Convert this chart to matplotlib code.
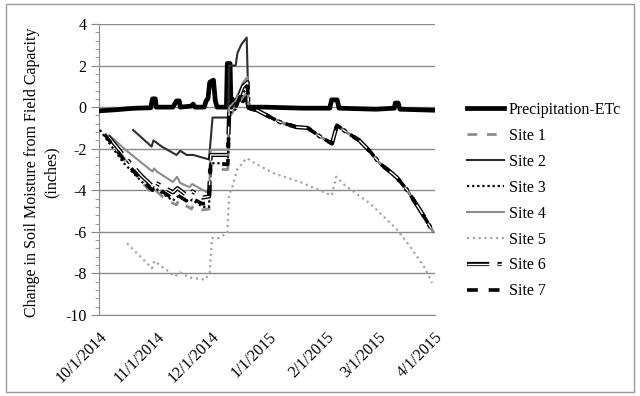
import matplotlib
matplotlib.use("Agg")
import matplotlib.pyplot as plt
import matplotlib.dates as mdates
import matplotlib.patheffects as pe
from matplotlib.patches import Rectangle
import pandas as pd

plt.rcParams['font.family'] = ['Liberation Serif', 'DejaVu Serif']
plt.rcParams['axes.unicode_minus'] = False

start = pd.Timestamp("2014-10-01")

# days after 10/1/2014 and values (inches)
precip_days = [0, 5, 10, 15, 20, 28, 29, 30.5, 31, 40, 42, 43.5, 44, 50, 51, 52, 57, 58, 59, 60, 62, 63, 64,
               69, 69.5, 71, 71.5, 72, 74, 76, 78, 80, 81, 90, 110, 125, 126, 129, 130, 150, 160, 160.5, 162,
               163, 182]
precip_vals = [-0.18, -0.15, -0.12, -0.08, -0.05, -0.03, 0.4, 0.4, 0.0, 0.0, 0.3, 0.3, 0.0, 0.05, 0.15, 0.0,
               0.0, 0.3, 0.4, 1.2, 1.3, 0.3, 0.0, 0.0, 2.1, 2.1, 0.0, 0.4, 0.2, 0.6, 0.3, 0.5, 0.0, 0.0, -0.05,
               -0.05, 0.35, 0.35, -0.05, -0.1, -0.05, 0.2, 0.2, -0.1, -0.15]

# after late December all sites except Site 5 follow the same curve
tail_days = [81, 85.6, 91, 98, 107, 113, 120, 126.2, 128.9, 134, 141, 147, 152, 159, 161.5, 167, 174, 181]
tail_vals = [-0.05, -0.15, -0.4, -0.72, -0.96, -1.0, -1.43, -1.75, -0.87, -1.2, -1.6, -2.15, -2.7, -3.2,
             -3.4, -4.0, -4.96, -6.0]

site1_days = [5.5, 13, 23, 29, 30, 36.8, 42, 43, 50, 51, 54.7, 59.6, 60.5, 69.8, 70.5, 74, 78, 80.5]
site1_vals = [-1.45, -2.4, -3.6, -4.15, -3.95, -4.5, -4.7, -4.5, -4.9, -4.75, -4.96, -4.9, -3.0, -3.0, -0.5,
              0.0, 0.5, 0.7]

site2_days = [18.5, 28.5, 29.5, 34, 42, 44, 47.5, 51, 59, 59.6, 61.5, 70, 70.5, 74, 75, 77, 80]
site2_vals = [-1.1, -1.9, -1.6, -1.9, -2.3, -2.1, -2.3, -2.3, -2.5, -2.5, -0.5, -0.5, 2.0, 2.0, 2.6, 3.0, 3.35]

site3_days = [0.5, 13, 23.3, 29, 29.8, 40, 42.5, 49, 50.5, 56, 59.6, 60.5, 69.8, 70.5, 74, 78, 80.5]
site3_vals = [-1.1, -2.65, -3.6, -4.0, -3.85, -4.5, -4.3, -4.55, -4.45, -4.8, -4.8, -2.7, -2.7, -0.3, -0.1,
              0.7, 0.9]

site4_days = [5.5, 15, 29, 29.8, 31.4, 40, 42.3, 44, 49, 50.5, 58.5, 59.6, 60.5, 69.8, 70.5, 74, 78, 80.5]
site4_vals = [-1.35, -2.1, -3.1, -2.95, -3.1, -3.6, -3.35, -3.65, -3.85, -3.7, -4.1, -4.1, -2.05, -2.05, 0.0,
              0.3, 1.2, 1.45]

site5_days = [15.2, 28.7, 30, 36.8, 41, 44, 49, 57.5, 60, 61.2, 65, 69.5, 70.5, 72, 74.8, 80, 84.5, 95, 109,
              126, 128.5, 133, 147, 161, 168.5, 176.6, 180.4]
site5_vals = [-6.55, -7.75, -7.4, -7.85, -8.15, -7.95, -8.2, -8.3, -7.95, -6.3, -6.3, -6.05, -4.2, -3.9, -3.0,
              -2.45, -2.7, -3.2, -3.6, -4.25, -3.35, -3.75, -4.65, -5.85, -6.7, -7.75, -8.45]

site6_days = [5, 15, 23, 29, 30, 40, 42.5, 47.7, 50.5, 56, 59.6, 60.5, 69.8, 70.5, 74, 78, 80.5]
site6_vals = [-1.4, -2.5, -3.3, -3.8, -3.6, -4.1, -3.9, -4.25, -4.05, -4.35, -4.3, -2.3, -2.3, -0.2, 0.1,
              1.0, 1.2]

site7_days = [3, 14, 23, 29, 30, 40, 42, 49, 50.5, 56, 59.6, 60.5, 69.8, 70.5, 74, 78, 80.5]
site7_vals = [-1.3, -2.6, -3.5, -4.0, -3.8, -4.4, -4.2, -4.6, -4.4, -4.65, -4.6, -2.75, -2.75, -0.4, 0.0,
              0.8, 1.0]


def toDates(days):
    return start + pd.to_timedelta(days, unit="D")


fig = plt.figure(figsize=(6.4, 3.96), dpi=100)
ax = fig.add_axes([99 / 640, 1 - 315 / 396, 336 / 640, 291 / 396])

ax.plot(toDates(precip_days), precip_vals, color="black", lw=3.4, label="Precipitation-ETc", zorder=3)

sites = [
    (site1_days, site1_vals, dict(color="#8c8c8c", lw=2, dashes=(3.5, 3.5)), "Site 1"),
    (site2_days, site2_vals, dict(color="#2e2e2e", lw=1.5), "Site 2"),
    (site3_days, site3_vals, dict(color="black", lw=1.6, dashes=(1, 1.3)), "Site 3"),
    (site4_days, site4_vals, dict(color="#8c8c8c", lw=1.5), "Site 4"),
    (site5_days, site5_vals, dict(color="#a6a6a6", lw=1.6, dashes=(1, 1.6)), "Site 5"),
    (site6_days, site6_vals, dict(color="white", lw=1, dashes=(16, 6, 3, 6),
                                  path_effects=[pe.Stroke(linewidth=3, foreground="black"), pe.Normal()]),
     "Site 6"),
    (site7_days, site7_vals, dict(color="black", lw=2.6, dashes=(3, 3)), "Site 7"),
]
for days, vals, style, name in sites:
    if name != "Site 5":
        days = days + tail_days
        vals = vals + tail_vals
    ax.plot(toDates(days), vals, label=name, zorder=4, **style)

ax.set_xlim(start, pd.Timestamp("2015-04-01"))
ax.set_ylim(-10, 4)
ax.set_yticks(range(-10, 5, 2))
ax.set_yticks([v * 0.4 for v in range(-25, 11)], minor=True)
ax.grid(axis="y", which="major", color="#8a8a8a", lw=1)
ax.set_axisbelow(True)

ax.xaxis.set_major_locator(mdates.MonthLocator())
ax.xaxis.set_major_formatter(mdates.DateFormatter("%-m/%-d/%Y"))
for lab in ax.get_xticklabels():
    lab.set_rotation(45)
    lab.set_ha("right")
    lab.set_va("top")
    lab.set_rotation_mode("anchor")

for s in ["top", "right"]:
    ax.spines[s].set_visible(False)
for s in ["left", "bottom"]:
    ax.spines[s].set_color("#8a8a8a")
ax.tick_params(axis="y", which="major", length=6, color="#8a8a8a", labelsize=11.5, pad=3)
ax.tick_params(axis="y", which="minor", length=3, color="#8a8a8a")
ax.tick_params(axis="x", length=0, labelsize=11.5, pad=10)

ax.set_ylabel("Change in Soil Moisture from Field Capacity\n(inches)", fontsize=11.5, linespacing=1.3)
ax.yaxis.set_label_coords(-0.116, 0.49)

ax.legend(loc="upper left", bbox_to_anchor=(467 / 640, 1 - 102 / 396), bbox_transform=fig.transFigure,
          frameon=False, fontsize=11.5, handlelength=2.3, handletextpad=0.3, labelspacing=0.62,
          borderpad=0, borderaxespad=0)

fig.patches.append(Rectangle((6 / 640, 4 / 396), 628 / 640, 388 / 396, transform=fig.transFigure,
                             fill=False, edgecolor="#9a9a9a", lw=1))

fig.savefig("out.png", dpi=100)
